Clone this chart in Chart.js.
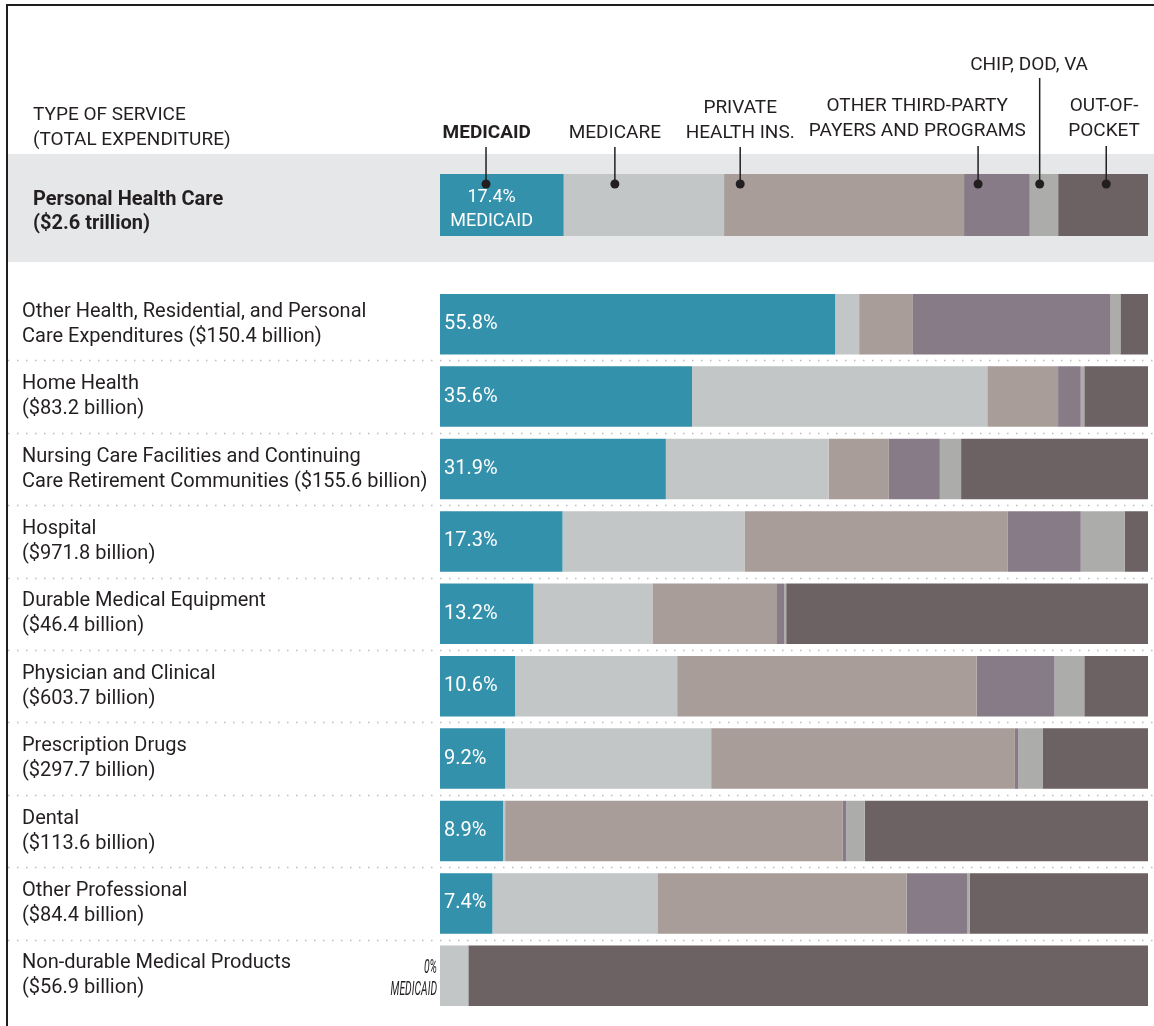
<!DOCTYPE html>
<html>
<head>
<meta charset="utf-8">
<script src="https://cdn.jsdelivr.net/npm/chart.js@4.4.0/dist/chart.umd.min.js"></script>
<style>
  html, body { margin: 0; padding: 0; background: #fff; }
  #wrap { position: relative; width: 1154px; height: 1026px; overflow: hidden; }
  #frame { position: absolute; left: 6px; top: 4px; right: -10px; bottom: -10px;
           border-left: 2px solid #1e1e1e; border-top: 2px solid #1e1e1e; }
  #band { position: absolute; left: 8px; top: 154px; width: 1146px; height: 108px; background: #e6e7e8; }
  canvas { position: absolute; left: 0; top: 0; }
</style>
</head>
<body>
<div id="wrap">
  <div id="frame"></div>
  <div id="band"></div>
  <canvas id="topChart" width="1154" height="262"></canvas>
  <canvas id="rowChart" width="1154" height="1026"></canvas>
</div>
<script>
// payer shares, percent of each service's spending
const payers = ['Medicaid', 'Medicare', 'Private Health Ins.', 'Other Third-Party Payers and Programs', 'CHIP, DOD, VA', 'Out-of-Pocket'];
const colors = ['#3391ac', '#c2c6c7', '#a89d98', '#877b88', '#acacaa', '#6c6163'];

const totalLabel = ['Personal Health Care', '($2.6 trillion)'];
const totalShares = [17.4, 22.7, 33.9, 9.2, 4.1, 12.7];

const services = [
  ['Other Health, Residential, and Personal', 'Care Expenditures ($150.4 billion)'],
  ['Home Health', '($83.2 billion)'],
  ['Nursing Care Facilities and Continuing', 'Care Retirement Communities ($155.6 billion)'],
  ['Hospital', '($971.8 billion)'],
  ['Durable Medical Equipment', '($46.4 billion)'],
  ['Physician and Clinical', '($603.7 billion)'],
  ['Prescription Drugs', '($297.7 billion)'],
  ['Dental', '($113.6 billion)'],
  ['Other Professional', '($84.4 billion)'],
  ['Non-durable Medical Products', '($56.9 billion)']
];
const medicaid    = [55.8, 35.6, 31.9, 17.3, 13.2, 10.6, 9.2, 8.9, 7.4, 0];
const medicare    = [3.4, 41.7, 23.0, 25.7, 16.8, 22.9, 29.1, 0.3, 23.3, 4.0];
const privateIns  = [7.6, 10.0, 8.5, 37.2, 17.6, 42.3, 42.9, 47.7, 35.2, 0];
const otherThird  = [27.9, 3.2, 7.2, 10.3, 1.0, 11.0, 0.5, 0.5, 8.6, 0];
const chipDodVa   = [1.4, 0.5, 3.0, 6.2, 0.3, 4.2, 3.4, 2.6, 0.3, 0];
const outOfPocket = [3.9, 9.0, 26.4, 3.3, 51.1, 9.0, 14.9, 40.0, 25.2, 96.0];

// header callouts: where the text sits and where the pointer hits the total bar (in % of the axis)
const callouts = [
  { lines: ['MEDICAID'], bold: true, textAt: 6.6, dotAt: 6.5, ys: [133], lineTop: 147 },
  { lines: ['MEDICARE'], textAt: 24.7, dotAt: 24.7, ys: [133], lineTop: 147 },
  { lines: ['PRIVATE', 'HEALTH INS.'], textAt: 42.4, dotAt: 42.4, ys: [108, 133], lineTop: 147 },
  { lines: ['OTHER THIRD-PARTY', 'PAYERS AND PROGRAMS'], textAt: 67.4, dotAt: 76.0, ys: [106, 131], lineTop: 146 },
  { lines: ['CHIP, DOD, VA'], textAt: 83.2, dotAt: 84.7, ys: [65], lineTop: 78 },
  { lines: ['OUT-OF-', 'POCKET'], textAt: 93.8, dotAt: 94.1, ys: [106, 131], lineTop: 146 }
];

const family = 'Roboto, "Open Sans", sans-serif';
const ink = '#231f20';

Chart.defaults.font.family = family;
Chart.defaults.animation = false;

function makeDatasets(series) {
  return series.map((data, i) => ({
    label: payers[i],
    data: data,
    backgroundColor: colors[i],
    borderWidth: 0,
    categoryPercentage: 1,
    barPercentage: 1
  }));
}

// --- top chart: Personal Health Care total ---
const headerPlugin = {
  id: 'header',
  afterDraw(chart) {
    const { ctx, scales: { x, y } } = chart;
    ctx.save();
    ctx.fillStyle = ink;
    ctx.textBaseline = 'middle';
    ctx.textAlign = 'left';
    ctx.font = '19px ' + family;
    ctx.fillText('TYPE OF SERVICE', 33, 115);
    ctx.fillText('(TOTAL EXPENDITURE)', 33, 140);

    const dotY = y.getPixelForValue(0) - 21;
    callouts.forEach(c => {
      ctx.font = (c.bold ? 'bold ' : '') + '19px ' + family;
      ctx.textAlign = 'center';
      ctx.fillStyle = ink;
      c.lines.forEach((t, k) => ctx.fillText(t, x.getPixelForValue(c.textAt), c.ys[k]));
      const lx = x.getPixelForValue(c.dotAt);
      ctx.strokeStyle = ink;
      ctx.lineWidth = 1.5;
      ctx.beginPath();
      ctx.moveTo(lx, c.lineTop);
      ctx.lineTo(lx, dotY);
      ctx.stroke();
      ctx.beginPath();
      ctx.arc(lx, dotY, 4.5, 0, Math.PI * 2);
      ctx.fill();
    });

    // label inside the Medicaid segment
    const cx = (x.getPixelForValue(0) + x.getPixelForValue(totalShares[0])) / 2 - 10;
    const cy = y.getPixelForValue(0);
    ctx.fillStyle = '#fff';
    ctx.font = '18px ' + family;
    ctx.fillText(totalShares[0].toFixed(1) + '%', cx, cy - 8);
    ctx.fillText('MEDICAID', cx, cy + 16);
    ctx.restore();
  }
};

new Chart(document.getElementById('topChart'), {
  type: 'bar',
  data: {
    labels: [totalLabel],
    datasets: makeDatasets(totalShares.map(v => [v]))
  },
  options: {
    indexAxis: 'y',
    responsive: false,
    layout: { padding: { left: 33, right: 6, top: 174, bottom: 26 } },
    plugins: { legend: { display: false }, tooltip: { enabled: false } },
    scales: {
      x: { stacked: true, min: 0, max: 100, display: false },
      y: {
        stacked: true,
        grid: { display: false },
        border: { display: false },
        ticks: { crossAlign: 'far', color: ink, padding: 0, labelOffset: 7,
                 font: { size: 20, weight: 'bold', lineHeight: 1.2 } },
        afterFit(s) { s.width = 407; s.paddingTop = 0; s.paddingBottom = 0; }
      }
    }
  },
  plugins: [headerPlugin]
});

// --- row chart: each type of service ---
const rowPlugin = {
  id: 'rowDecor',
  beforeDatasetsDraw(chart) {
    const { ctx, scales: { y } } = chart;
    ctx.save();
    ctx.strokeStyle = '#bdbdbd';
    ctx.lineWidth = 1.5;
    ctx.setLineDash([1.5, 7.5]);
    for (let i = 0; i < services.length - 1; i++) {
      const yy = Math.round((y.getPixelForValue(i) + y.getPixelForValue(i + 1)) / 2) + 0.5;
      ctx.beginPath();
      ctx.moveTo(8, yy);
      ctx.lineTo(1154, yy);
      ctx.stroke();
    }
    ctx.restore();
  },
  afterDatasetsDraw(chart) {
    const { ctx, chartArea, scales: { y } } = chart;
    ctx.save();
    ctx.textBaseline = 'middle';
    medicaid.forEach((v, i) => {
      const cy = y.getPixelForValue(i);
      if (v > 0) {
        ctx.fillStyle = '#fff';
        ctx.textAlign = 'left';
        ctx.font = '20px ' + family;
        ctx.fillText(v.toFixed(1) + '%', chartArea.left + 4, cy);
      } else {
        // no Medicaid share: note sits just left of the bar
        ctx.fillStyle = ink;
        ctx.textAlign = 'right';
        ctx.font = 'italic 20px ' + family;
        ctx.save();
        ctx.translate(chartArea.left - 3, cy);
        ctx.scale(0.52, 1);
        ctx.fillText('0%', 0, -8);
        ctx.fillText('MEDICAID', 0, 14);
        ctx.restore();
      }
    });
    ctx.restore();
  }
};

new Chart(document.getElementById('rowChart'), {
  type: 'bar',
  data: {
    labels: services,
    datasets: makeDatasets([medicaid, medicare, privateIns, otherThird, chipDodVa, outOfPocket])
      .map(d => Object.assign(d, { barPercentage: 0.835 }))
  },
  options: {
    indexAxis: 'y',
    responsive: false,
    layout: { padding: { left: 22, right: 6, top: 288, bottom: 14 } },
    plugins: { legend: { display: false }, tooltip: { enabled: false } },
    scales: {
      x: { stacked: true, min: 0, max: 100, display: false },
      y: {
        stacked: true,
        grid: { display: false },
        border: { display: false },
        ticks: { autoSkip: false, crossAlign: 'far', color: ink, padding: 0, labelOffset: 0,
                 font: { size: 20, lineHeight: 1.25 } },
        afterFit(s) { s.width = 418; s.paddingTop = 0; s.paddingBottom = 0; }
      }
    }
  },
  plugins: [rowPlugin]
});
</script>
</body>
</html>
